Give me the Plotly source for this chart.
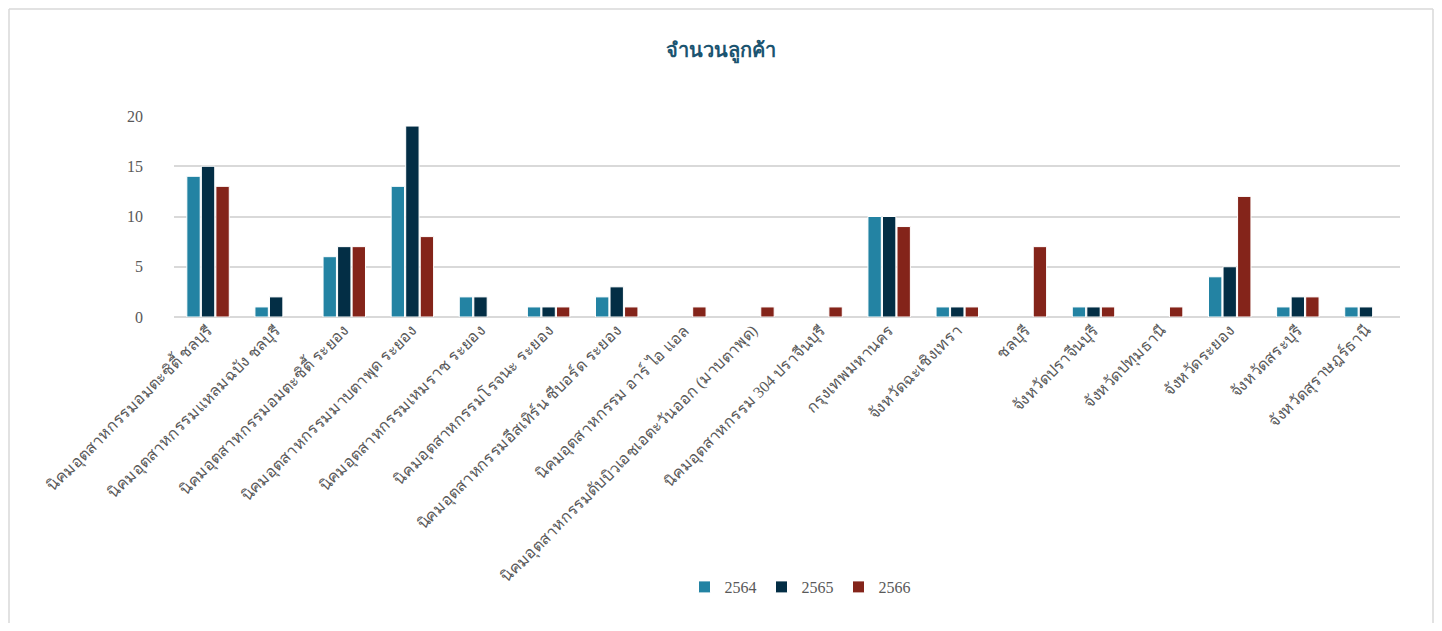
import plotly.graph_objects as go

categories = [
    "นิคมอุตสาหกรรมอมตะซิตี้ ชลบุรี",
    "นิคมอุตสาหกรรมแหลมฉบัง ชลบุรี",
    "นิคมอุตสาหกรรมอมตะซิตี้ ระยอง",
    "นิคมอุตสาหกรรมมาบตาพุด ระยอง",
    "นิคมอุตสาหกรรมเหมราช ระยอง",
    "นิคมอุตสาหกรรมโรจนะ ระยอง",
    "นิคมอุตสาหกรรมอีสเทิร์น ซีบอร์ด ระยอง",
    "นิคมอุตสาหกรรม อาร์ ไอ แอล",
    "นิคมอุตสาหกรรมดับบิวเอชเอตะวันออก (มาบตาพุด)",
    "นิคมอุตสาหกรรม 304 ปราจีนบุรี",
    "กรุงเทพมหานคร",
    "จังหวัดฉะเชิงเทรา",
    "ชลบุรี",
    "จังหวัดปราจีนบุรี",
    "จังหวัดปทุมธานี",
    "จังหวัดระยอง",
    "จังหวัดสระบุรี",
    "จังหวัดสุราษฎร์ธานี",
]
y2564 = [14, 1, 6, 13, 2, 1, 2, 0, 0, 0, 10, 1, 0, 1, 0, 4, 1, 1]
y2565 = [15, 2, 7, 19, 2, 1, 3, 0, 0, 0, 10, 1, 0, 1, 0, 5, 2, 1]
y2566 = [13, 0, 7, 8, 0, 1, 1, 1, 1, 1, 9, 1, 7, 1, 1, 12, 2, 0]
series_names = ["2564", "2565", "2566"]
series_colors = ["#2383a3", "#032e45", "#84241a"]
y_ticks = [0, 5, 10, 15, 20]

W, H = 1426, 615
L, R, T, B = 166, 34, 108, 306
PW, PH = W - L - R, H - T - B

fig = go.Figure()
for name, vals, col in zip(series_names, [y2564, y2565, y2566], series_colors):
    fig.add_trace(go.Bar(
        x=categories, y=vals, name=name,
        marker=dict(color=col,
                    line=dict(color="white", width=[1 if v > 0 else 0 for v in vals])),
    ))

font_family = "Liberation Serif, Times New Roman, serif"

def px_x(px):
    return (px - L) / PW

def px_y(py):
    return 1 - (py - T) / PH

border = dict(color="#d9d9d9", width=1.5)
x0, x1 = px_x(1), px_x(1425)
y0, y1 = px_y(H + 20), px_y(1)
shapes = [
    dict(type="line", xref="paper", yref="paper", x0=x0, x1=x0, y0=y0, y1=y1, line=border),
    dict(type="line", xref="paper", yref="paper", x0=x0, x1=x1, y0=y1, y1=y1, line=border),
    dict(type="line", xref="paper", yref="paper", x0=x1, x1=x1, y0=y0, y1=y1, line=border),
]

fig.update_layout(
    width=W, height=H,
    margin=dict(l=L, r=R, t=T, b=B, pad=0, autoexpand=False),
    paper_bgcolor="white", plot_bgcolor="white",
    barmode="group", bargap=0.36, bargroupgap=0.08,
    font=dict(family=font_family, size=16, color="#595959"),
    title=dict(text="<b>จำนวนลูกค้า</b>", x=0.5, xref="container", xanchor="center",
               y=1 - 42 / H, yref="container", yanchor="middle",
               font=dict(family=font_family, size=20, color="#1b5470")),
    showlegend=True,
    legend=dict(orientation="h", x=px_x(792), xref="paper", xanchor="center",
                y=px_y(579), yref="paper", yanchor="middle",
                font=dict(size=16, color="#595959"),
                itemwidth=30, traceorder="normal"),
    shapes=shapes,
)
fig.update_xaxes(tickangle=-45, automargin=False, showgrid=False, showline=False,
                 ticks="", tickfont=dict(size=16, color="#595959"))
fig.update_yaxes(range=[0, 20], tickvals=y_ticks, automargin=False, showgrid=True,
                 gridcolor="#d9d9d9", gridwidth=1.5, zeroline=True, zerolinecolor="#d9d9d9",
                 zerolinewidth=1.5, showline=False, ticks="", ticklabelstandoff=30,
                 tickfont=dict(size=16, color="#595959"))

fig.write_html("out.html")
